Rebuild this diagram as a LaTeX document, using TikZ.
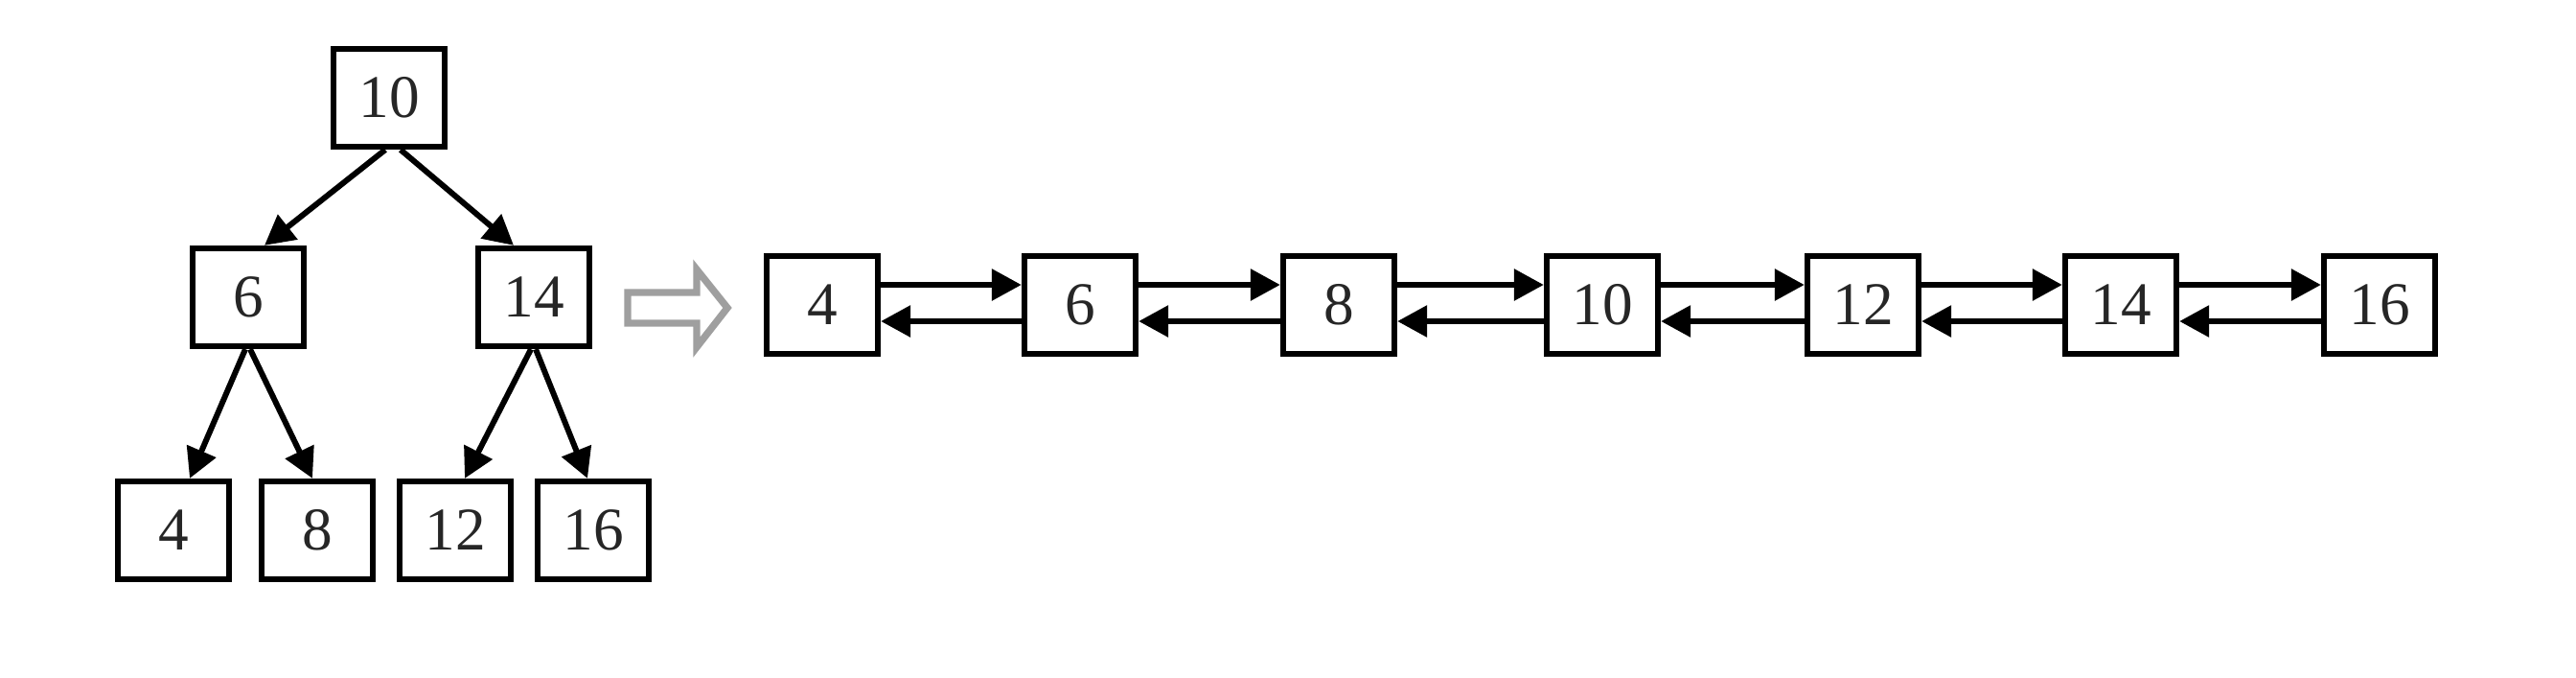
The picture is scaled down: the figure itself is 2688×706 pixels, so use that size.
\documentclass[tikz,border=0pt]{standalone}
\usepackage{fontspec}
\setmainfont{Liberation Serif}
\usetikzlibrary{arrows.meta}
\begin{document}
\begin{tikzpicture}[x=0.1mm,y=-0.1mm,
  box/.style={draw, line width=1.8pt, minimum width=1.16cm, minimum height=1.02cm,
    inner sep=0pt, font=\fontsize{18}{20}\selectfont, text=black!85},
  link/.style={line width=1.7pt, -{Triangle[length=0.31cm,width=0.32cm]}},
  hollow/.style={draw=gray!75, line width=2.1pt, line join=miter}]
\useasboundingbox (0,0) rectangle (2688,706);
% tree
\node[box] (t10) at (406,102) {10};
\node[box] (t6)  at (259,310) {6};
\node[box] (t14) at (557,310) {14};
\node[box] (t4)  at (181,553) {4};
\node[box] (t8)  at (331,553) {8};
\node[box] (t12) at (475,553) {12};
\node[box] (t16) at (619,553) {16};
\draw[link] ([xshift=-0.04cm]t10.south) -- ([xshift=0.17cm]t6.north);
\draw[link] ([xshift=0.12cm]t10.south) -- ([xshift=-0.21cm]t14.north);
\draw[link] ([xshift=-0.03cm]t6.south) -- ([xshift=0.17cm]t4.north);
\draw[link] ([xshift=0.02cm]t6.south) -- ([xshift=-0.05cm]t8.north);
\draw[link] ([xshift=-0.03cm]t14.south) -- ([xshift=0.10cm]t12.north);
\draw[link] ([xshift=0.02cm]t14.south) -- ([xshift=-0.06cm]t16.north);
% hollow arrow
\draw[hollow] (655,305) -- (727,305) -- (727,281) -- (759,321) -- (727,362) -- (727,337) -- (655,337) -- cycle;
% list
\node[box] (l4)  at (858,318) {4};
\node[box] (l6)  at (1127,318) {6};
\node[box] (l8)  at (1397,318) {8};
\node[box] (l10) at (1672,318) {10};
\node[box] (l12) at (1944,318) {12};
\node[box] (l14) at (2213,318) {14};
\node[box] (l16) at (2483,318) {16};
\foreach \a/\b in {l4/l6,l6/l8,l8/l10,l10/l12,l12/l14,l14/l16}{
  \draw[link] ([yshift=0.21cm]\a.east) -- ([yshift=0.21cm]\b.west);
  \draw[link] ([yshift=-0.17cm]\b.west) -- ([yshift=-0.17cm]\a.east);
}
\end{tikzpicture}
\end{document}
